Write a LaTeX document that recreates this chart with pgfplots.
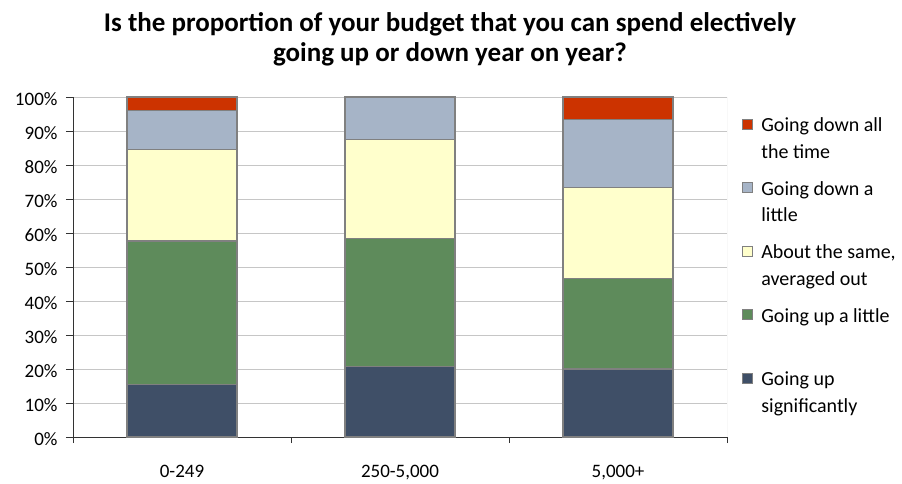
\documentclass[border=0pt]{standalone}
\usepackage{fontspec}
\setmainfont{Carlito}
\usepackage{pgfplots}
\pgfplotsset{compat=1.18}
\definecolor{cdark}{HTML}{3F4F67}
\definecolor{cgreen}{HTML}{5E8B5B}
\definecolor{cyellow}{HTML}{FFFFCC}
\definecolor{cblue}{HTML}{A6B4C7}
\definecolor{cred}{HTML}{CC3300}
\definecolor{cedge}{HTML}{808080}
\definecolor{cgrid}{HTML}{C6C6C6}
\newcommand{\tl}[1]{\begin{tabular}[t]{@{}l@{}}#1\end{tabular}}
\begin{document}
\begin{tikzpicture}
\pgfplotsset{
  myleg/.style={legend image code/.code={\draw[##1,line width=1.2pt] (0pt,20.25pt) rectangle (10pt,30.25pt);}},
}
\begin{axis}[
  at={(0,0)}, anchor=south west,
  scale only axis, width=654pt, height=340pt,
  ybar stacked, bar width=0.505,
  xmin=-0.5, xmax=2.5, ymin=0, ymax=100,
  axis x line=bottom, axis y line=left,
  axis line style={line width=0.9pt, color=black!80, -},
  tick align=outside,
  xtick={0,1,2},
  xticklabels={{0-249},{250-5,000},{5,000+}},
  minor xtick={-0.5,0.5,1.5,2.5},
  major x tick style={draw=none},
  minor x tick style={line width=0.9pt, color=black!80},
  minor tick length=6pt,
  ytick={0,10,...,100},
  major tick length=7pt,
  ytick style={line width=0.9pt, color=black!80},
  yticklabel={\pgfmathprintnumber{\tick}\%},
  /pgf/number format/assume math mode=true,
  ymajorgrids, major grid style={cgrid, line width=0.9pt},
  ticklabel style={font=\fontsize{19}{22}\selectfont, text=black},
  xticklabel style={yshift=-18pt},
  yticklabel style={xshift=-5pt, yshift=-2pt},
  every axis plot/.append style={draw=cedge, line width=1.4pt},
  reverse legend,
  legend style={at={(1.0183,0.9456)}, anchor=north west, draw=none, fill=none,
    font=\fontsize{20}{26.5}\selectfont,
    nodes={inner sep=0pt, text height=14pt, text depth=49.5pt},
    column sep=8pt, row sep=0pt},
  legend cell align=left,
]
\addplot[fill=cdark, draw=cedge, myleg] coordinates {(0,15.4) (1,20.8) (2,20.0)};
\addplot[fill=cgreen, draw=cedge, myleg] coordinates {(0,42.3) (1,37.5) (2,26.7)};
\addplot[fill=cyellow, draw=cedge, myleg] coordinates {(0,26.9) (1,29.2) (2,26.6)};
\addplot[fill=cblue, draw=cedge, myleg] coordinates {(0,11.5) (1,12.5) (2,20.0)};
\addplot[fill=cred, draw=cedge, myleg] coordinates {(0,3.9) (1,0) (2,6.7)};
\legend{{\tl{Going up\\significantly}},{\tl{Going up a little}},{\tl{About the same,\\averaged out}},{\tl{Going down a\\little}},{\tl{Going down all\\the time}}}
\draw[cgrid, line width=0.9pt] (rel axis cs:1,0) -- (rel axis cs:1,1);
\end{axis}
\node[anchor=base, font=\fontsize{27}{32}\selectfont\bfseries] at (377pt,405pt) {Is the proportion of your budget that you can spend electively};
\node[anchor=base, font=\fontsize{27}{32}\selectfont\bfseries] at (377pt,375pt) {going up or down year on year?};
\path[use as bounding box] (-73pt,-40pt) rectangle (829pt,437pt);
\end{tikzpicture}
\end{document}
